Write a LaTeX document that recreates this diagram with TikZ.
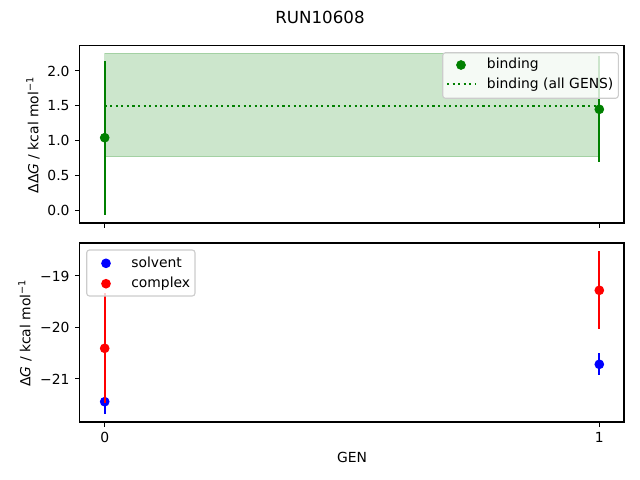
\documentclass[tikz,border=0pt]{standalone}
\usepackage{fontspec}
\setmainfont{DejaVu Sans}
\definecolor{mgreen}{HTML}{008000}
\definecolor{mblue}{HTML}{0000FF}
\definecolor{mred}{HTML}{FF0000}
\definecolor{legedge}{HTML}{CCCCCC}
\begin{document}
\begin{tikzpicture}[x=0.72pt,y=-0.72pt,
  font=\fontsize{10}{12}\selectfont,
  axframe/.style={draw=black,line width=0.8pt},
  tickmark/.style={draw=black,line width=0.8pt},
  ticklab/.style={inner sep=0pt,text height=7.3pt,text depth=0pt},
  ebar/.style={line width=1.5pt},
  dot/.style={circle,inner sep=0pt,minimum size=7pt},
  legbox/.style={draw=legedge,fill=white,fill opacity=0.8,line width=0.8pt,rounded corners=2pt},
  legtext/.style={anchor=west,inner sep=0pt,text height=7.3pt,text depth=1.9pt},
  dotline/.style={mgreen,line width=1.5pt,dash pattern=on 1.5pt off 2.5pt}]
\useasboundingbox (0,0) rectangle (640,480);
% title
\node (title) at (320,17) {\fontsize{12}{14}\selectfont RUN10608};
% ---------------- top axes ----------------
\fill[mgreen,opacity=0.2] (104.7,53.3) rectangle (599.3,156.7);
\draw[mgreen,opacity=0.2,line width=1pt] (104.7,53.3) rectangle (599.3,156.7);
\coordinate (dl0) at (104.7,105.6);
\coordinate (dl1) at (599.3,105.6);
\draw[dotline] (dl0) -- (dl1);
\coordinate (b0t) at (104.7,60.9); \coordinate (b0b) at (104.7,214.5);
\coordinate (b1t) at (599.3,56.3); \coordinate (b1b) at (599.3,162.3);
\draw[ebar,mgreen] (b0t) -- (b0b);
\draw[ebar,mgreen] (b1t) -- (b1b);
\node[dot,fill=mgreen] (p0) at (104.7,137.7) {};
\node[dot,fill=mgreen] (p1) at (599.3,109.3) {};
\draw[axframe] (79.5,45.2) rectangle (624,223);
% y ticks top
\foreach \v/\y in {0.0/210.3,0.5/175.4,1.0/140.5,1.5/105.6,2.0/70.7}{
  \draw[tickmark] (79.5,\y) -- (74.6,\y);
  \node[ticklab,anchor=east] at (69.8,\y+0.3) {\v};
}
\draw[tickmark] (104.7,223) -- (104.7,227.9);
\draw[tickmark] (599.3,223) -- (599.3,227.9);
\node[rotate=90] (ylab1) at (33,135) {ΔΔ\textit{G} / kcal mol\textsuperscript{−1}};
% legend top
\draw[legbox] (442.7,52.7) rectangle (618.3,98.3);
\node[dot,fill=mgreen] (lg1) at (461,65) {};
\node[legtext] (lt1) at (486.7,65) {binding};
\coordinate (ld0) at (447,84.3); \coordinate (ld1) at (475,84.3);
\draw[dotline] (ld0) -- (ld1);
\node[legtext] (lt2) at (486.7,84.3) {binding (all GENS)};
% ---------------- bottom axes ----------------
\draw[ebar,mblue] (104.7,389.7) -- (104.7,413.7);
\draw[ebar,mblue] (599.3,353.3) -- (599.3,375.0);
\node[dot,fill=mblue] (s0) at (104.7,401.7) {};
\node[dot,fill=mblue] (s1) at (599.3,364.3) {};
\draw[ebar,mred] (104.7,293.3) -- (104.7,403.3);
\draw[ebar,mred] (599.3,251.0) -- (599.3,328.5);
\node[dot,fill=mred] (c0) at (104.7,348.3) {};
\node[dot,fill=mred] (c1) at (599.3,290.3) {};
\draw[axframe] (79.5,243) rectangle (624,422);
\foreach \v/\y in {−19/275.8,−20/327.3,−21/378.8}{
  \draw[tickmark] (79.5,\y) -- (74.6,\y);
  \node[ticklab,anchor=east] at (69.8,\y+0.3) {\v};
}
\draw[tickmark] (104.7,422) -- (104.7,426.9);
\draw[tickmark] (599.3,422) -- (599.3,426.9);
\node[ticklab,anchor=north] (x0) at (104.7,432) {0};
\node[ticklab,anchor=north] (x1) at (599.3,432) {1};
\node (xlab) at (352,457) {GEN};
\node[rotate=90] (ylab2) at (25,333) {Δ\textit{G} / kcal mol\textsuperscript{−1}};
% legend bottom
\draw[legbox] (86.7,250) rectangle (195,296);
\node[dot,fill=mblue] (lg2) at (106,263.3) {};
\node[legtext] (lt3) at (131,263.3) {solvent};
\node[dot,fill=mred] (lg3) at (106,283.7) {};
\node[legtext] (lt4) at (131,283.7) {complex};
\end{tikzpicture}
\end{document}
